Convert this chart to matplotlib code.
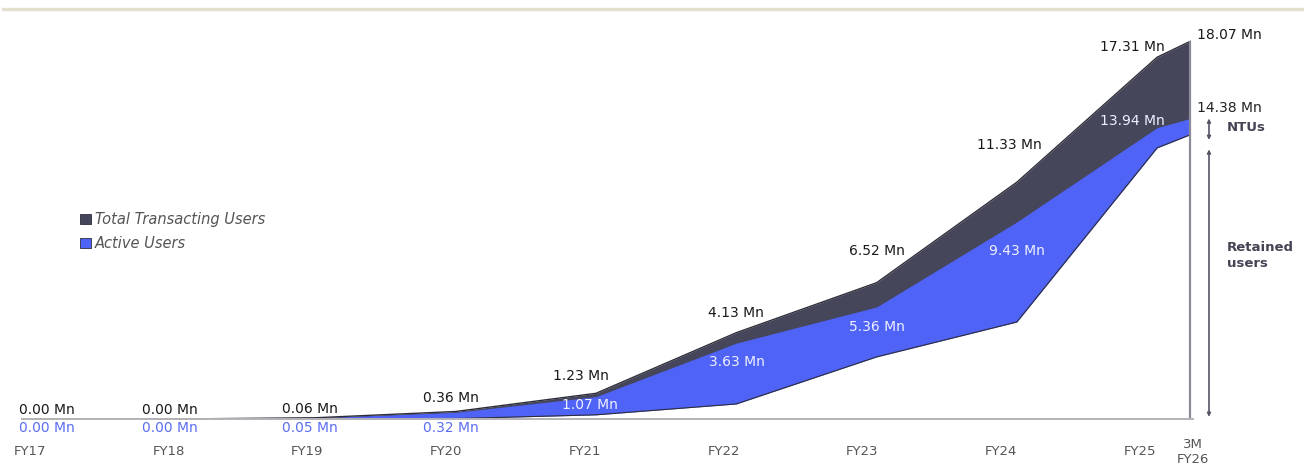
import matplotlib.pyplot as plt
import numpy as np
from matplotlib.lines import Line2D
from matplotlib.patches import Patch

plt.rcParams['font.family'] = ['DejaVu Sans']

# data (Mn users)
categories = ['FY17', 'FY18', 'FY19', 'FY20', 'FY21', 'FY22', 'FY23', 'FY24', 'FY25', '3M\nFY26']
total_users = [0.00, 0.00, 0.06, 0.36, 1.23, 4.13, 6.52, 11.33, 17.31, 18.07]
active_users = [0.00, 0.00, 0.05, 0.32, 1.07, 3.63, 5.36, 9.43, 13.94, 14.38]
# lower edge of the blue band
retained_users = [0.00, 0.00, 0.00, 0.02, 0.20, 0.72, 2.97, 4.64, 12.97, 13.60]

DARK = '#45465a'
BLUE = '#4f63f6'
EDGE = '#2e2e3a'

# label offsets in pixels (dx, dy) from each point
total_off = [(12, 9), (-5, 9), (-6, 9), (-5, 13), (-15, 17), (0, 20), (0, 32), (-7, 37), (-25, 10), (7, 6)]
active_off = [(12, -9), (-5, -9), (-6, -10), (-5, -16), (-6, -8), (1, -19), (0, -20), (0, -29), (-25, 7), (7, 10)]
active_col = ['#5b6df2'] * 4 + ['#eef0ff'] * 5 + ['#222222']

x = np.arange(len(categories), dtype=float)
x[-1] = 8.236  # the 3M point sits close to FY25

fig = plt.figure(figsize=(13.04, 4.66), dpi=100)
ax = fig.add_axes([22 / 1304, 47 / 466, (1193 - 22) / 1304, 418 / 466])
ax.set_xlim(-0.0925, x[-1])
ax.set_ylim(0, 20)

ax.fill_between(x, 0, total_users, color=DARK, lw=0)
ax.fill_between(x, 0, active_users, color=BLUE, lw=0)
ax.fill_between(x, 0, retained_users, color='white', lw=0)
ax.plot(x, total_users, color=EDGE, lw=1)
ax.plot(x, retained_users, color=EDGE, lw=0.8)
ax.plot([x[-1], x[-1]], [0, total_users[-1]], color='#8a8a9a', lw=1.6, solid_capstyle='butt')

for s in ['top', 'right', 'left']:
    ax.spines[s].set_visible(False)
ax.spines['bottom'].set_color('#b4b4b8')
ax.spines['bottom'].set_linewidth(1.4)
ax.set_yticks([])

tick_x = x * 0.989 - 0.036
tick_x[-1] = x[-1] + 0.02
ax.set_xticks(tick_x, categories)
ax.tick_params(axis='x', length=0, pad=23.5, labelsize=9.5, labelcolor='#555555')
for t in ax.get_xticklabels():
    t.set_verticalalignment('center')

for i in range(len(categories)):
    ha = 'left' if i == len(categories) - 1 else 'center'
    ax.annotate(f'{total_users[i]:.2f} Mn', (x[i], total_users[i]), xytext=total_off[i],
                textcoords='offset pixels', ha=ha, va='center', fontsize=10,
                color='#1a1a1a', annotation_clip=False)
    ax.annotate(f'{active_users[i]:.2f} Mn', (x[i], active_users[i]), xytext=active_off[i],
                textcoords='offset pixels', ha=ha, va='center', fontsize=10,
                color=active_col[i], annotation_clip=False)

# NTU / retained brackets
ax_x = 8.37
ax.annotate('', xy=(ax_x, active_users[-1]), xytext=(ax_x, retained_users[-1] - 0.25),
            arrowprops=dict(arrowstyle='<|-|>', color='#555566', lw=1.2,
                            mutation_scale=5, shrinkA=0, shrinkB=0),
            annotation_clip=False)
ax.annotate('', xy=(ax_x, retained_users[-1] - 0.7), xytext=(ax_x, 0.1),
            arrowprops=dict(arrowstyle='<|-|>', color='#555566', lw=1.2,
                            mutation_scale=5, shrinkA=0, shrinkB=0),
            annotation_clip=False)
ax.text(8.5, (active_users[-1] + retained_users[-1]) / 2 - 0.05, 'NTUs', fontsize=9.5,
        fontweight='bold', color='#444455', va='center', ha='left')
ax.text(8.5, 7.8, 'Retained\nusers', fontsize=9.5, fontweight='bold', color='#444455',
        va='center', ha='left', linespacing=1.3)

handles = [Patch(facecolor=DARK, edgecolor=EDGE, lw=0.6),
           Patch(facecolor=BLUE, edgecolor=EDGE, lw=0.6)]
fig.legend(handles, ['Total Transacting Users', 'Active Users'], loc='upper left',
           bbox_to_anchor=(73 / 1304, 1 - 205 / 466), frameon=False, borderpad=0,
           handlelength=0.7, handleheight=0.7, handletextpad=0.3, labelspacing=0.6,
           prop={'style': 'italic', 'size': 10.5}, labelcolor='#555555')

fig.add_artist(Line2D([0.002, 1], [1 - 9 / 466] * 2, transform=fig.transFigure,
                      color='#e4e0cf', lw=2.4))

fig.savefig('out.png', dpi=100)
